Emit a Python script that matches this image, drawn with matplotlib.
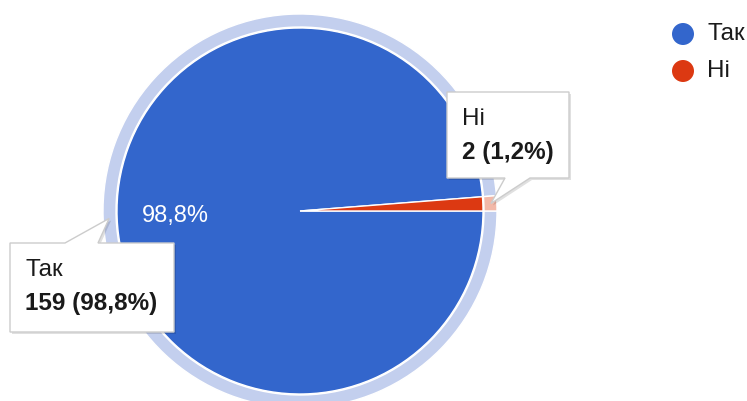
import numpy as np
import matplotlib.pyplot as plt
from matplotlib.patches import Polygon, Circle

# data
labels = ["Так", "Ні"]
counts = [159, 2]
colors = ["#3366cc", "#dc3912"]
ring_colors = ["#c3cfee", "#f2b8a8"]

W, H = 747, 401
plt.rcParams['font.family'] = ['Liberation Sans', 'DejaVu Sans']

fig = plt.figure(figsize=(W / 100, H / 100), dpi=100)
ax = fig.add_axes([0, 0, 1, 1])

# pixel rows measured from the top -> axes coords
def Y(py):
    return H - py

cx, cy = 300, Y(211)
r_pie, r_ring = 183, 197

total = sum(counts)
pcts = [c / total * 100 for c in counts]

def fmt_pct(p):
    return (f"{p:.1f}".replace(".", ",") + "%") if p > 5 else ""

# light highlight ring behind the pie
ax.pie(counts, colors=ring_colors, startangle=0, counterclock=False,
       radius=r_ring, center=(cx, cy),
       wedgeprops=dict(width=r_ring - r_pie - 1, linewidth=1, edgecolor="white"))

wedges, _, autotexts = ax.pie(
    counts, colors=colors, startangle=0, counterclock=False,
    radius=r_pie, center=(cx, cy), autopct=fmt_pct, pctdistance=0.68,
    wedgeprops=dict(linewidth=1, edgecolor="white"),
    textprops=dict(color="white", fontsize=17))

# callouts, tip points at the middle of each slice
def callout(box, base, side, idx, title, value):
    x0, y0, x1, y1 = box
    w = wedges[idx]
    mid = np.deg2rad((w.theta1 + w.theta2) / 2)
    tip = (cx + 191 * np.cos(mid), cy + 191 * np.sin(mid))
    b0, b1 = base
    if side == "bottom":
        pts = [(x0, Y(y0)), (x1, Y(y0)), (x1, Y(y1)), (b1, Y(y1)), tip,
               (b0, Y(y1)), (x0, Y(y1))]
    else:
        pts = [(x0, Y(y0)), (b0, Y(y0)), tip, (b1, Y(y0)), (x1, Y(y0)),
               (x1, Y(y1)), (x0, Y(y1))]
    shadow = [(px + 2, py - 2) for px, py in pts]
    ax.add_patch(Polygon(shadow, closed=True, facecolor="black", alpha=0.12,
                         edgecolor="none", zorder=5))
    ax.add_patch(Polygon(pts, closed=True, facecolor="white",
                         edgecolor="#cccccc", linewidth=1, zorder=6))
    ax.text(x0 + 15, Y(y0 + 33), title, fontsize=17.5, color="#1a1a1a",
            va="baseline", zorder=7)
    ax.text(x0 + 15, Y(y0 + 67), value, fontsize=17.5, fontweight="bold",
            color="#1a1a1a", va="baseline", zorder=7)

def val_text(i):
    return f"{counts[i]} ({pcts[i]:.1f}%)".replace(".", ",")

callout((447, 92, 569, 178), (505, 530), "bottom", 1, labels[1], val_text(1))
callout((10, 243, 174, 332), (65, 98), "top", 0, labels[0], val_text(0))

# legend
for i, lab in enumerate(labels):
    ly = Y(34 + 37 * i)
    ax.add_patch(Circle((683, ly), 11, facecolor=colors[i], edgecolor="none"))
    ax.text(707, ly, lab, fontsize=17.5, color="#1a1a1a", va="center")

ax.set_xlim(0, W)
ax.set_ylim(0, H)
ax.set_aspect("auto")
ax.axis("off")

fig.savefig("out.png", dpi=100)
